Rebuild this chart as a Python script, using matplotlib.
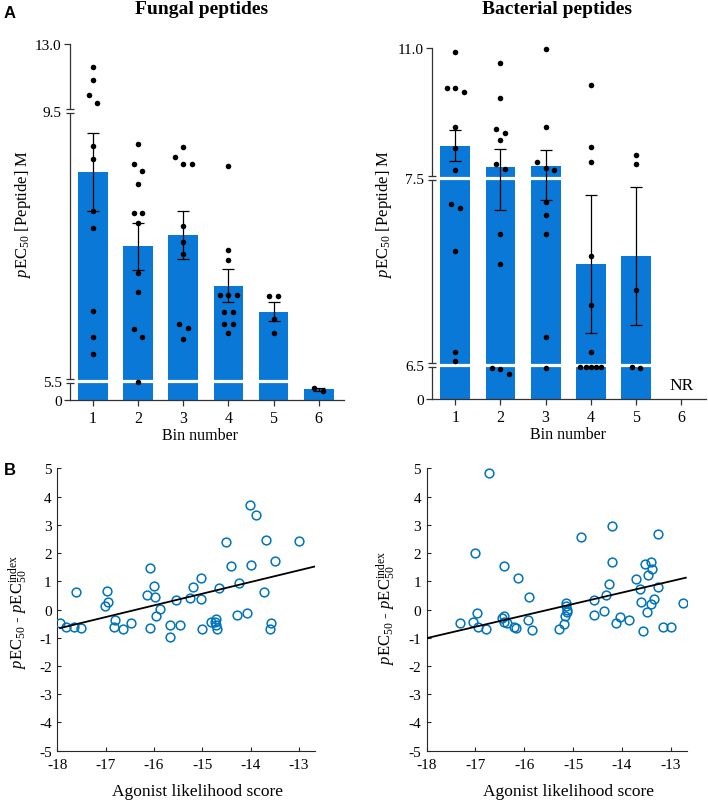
import numpy as np
import matplotlib
matplotlib.use("Agg")
import matplotlib.pyplot as plt
from matplotlib import transforms

plt.rcParams["font.family"] = "Liberation Serif"
plt.rcParams["mathtext.fontset"] = "custom"
plt.rcParams["mathtext.rm"] = "Liberation Serif"
plt.rcParams["mathtext.it"] = "Liberation Serif:italic"
plt.rcParams["mathtext.bf"] = "Liberation Serif:bold"
plt.rcParams["axes.unicode_minus"] = False

# ---- data: panel A ----
bins = [1, 2, 3, 4, 5, 6]
fungal_mean = [8.59, 7.49, 7.66, 6.91, 6.52, 3.0]
fungal_sem = [0.58, 0.35, 0.36, 0.24, 0.14, 0.3]
fungal_points = [
    [11.8, 11.1, 10.3, 9.9, 8.98, 8.79, 8.02, 7.76, 6.53, 6.15, 5.90],
    [9.01, 8.71, 8.60, 8.41, 7.98, 7.98, 7.84, 7.10, 6.81, 6.26, 6.15, 5.1],
    [8.96, 8.82, 8.71, 8.71, 7.79, 7.55, 7.37, 6.34, 6.28, 6.12],
    [8.68, 7.44, 7.29, 6.77, 6.77, 6.77, 6.52, 6.52, 6.34, 6.34, 6.20],
    [6.75, 6.75, 6.42, 6.20],
    [3.3, 2.7],
]

bact_bins = [1, 2, 3, 4, 5]
bact_mean = [8.37, 7.80, 7.82, 7.04, 7.08]
bact_sem = [0.42, 0.47, 0.44, 0.37, 0.37]
bact_points = [
    [10.89, 9.92, 9.92, 9.81, 8.86, 8.30, 7.72, 7.36, 7.34, 7.11, 6.57, 6.52],
    [10.60, 9.66, 8.81, 8.72, 8.53, 7.89, 7.73, 7.20, 7.04, 5.87, 5.74, 4.78],
    [10.96, 8.87, 7.92, 7.76, 7.72, 7.37, 7.30, 7.20, 6.65, 5.93],
    [10.01, 8.34, 7.94, 7.08, 6.82, 6.57, 6.06, 6.06, 6.06, 6.06, 6.06],
    [8.12, 7.87, 6.90, 6.06, 5.87],
]

# ---- data: panel B ----
fung_score = [-17.94, -17.83, -17.66, -17.61, -17.50, -17.02, -16.96, -16.97,
              -16.81, -16.82, -16.64, -16.48, -16.14, -16.08, -15.99, -15.98,
              -15.96, -15.87, -16.08, -15.67, -15.67, -15.54, -15.46, -15.26,
              -15.19, -15.03, -15.03, -15.00, -14.82, -14.74, -14.72, -14.72,
              -14.70, -14.66, -14.52, -14.41, -14.28, -14.25, -14.08, -14.01,
              -13.99, -13.88, -13.72, -13.69, -13.61, -13.57, -13.49, -13.00]
fung_delta = [-0.48, -0.63, -0.63, 0.62, -0.66, 0.12, 0.25, 0.64,
              -0.38, -0.61, -0.69, -0.49, 0.53, 1.48, 0.84, 0.45,
              -0.22, 0.02, -0.66, -0.54, -0.99, 0.34, -0.56, 0.40,
              0.81, 1.12, 0.36, -0.69, -0.44, -0.45, -0.35, -0.54,
              -0.69, 0.77, 2.39, 1.54, -0.21, 0.93, -0.11, 3.70,
              1.59, 3.36, 0.63, 2.45, -0.68, -0.48, 1.72, 2.41]
fung_fit = (0.414, 6.77)          # slope, intercept
fung_fit_x = (-17.94, -12.67)

bact_score = [-17.31, -17.06, -17.01, -16.97, -16.95, -16.78, -16.73, -16.46,
              -16.42, -16.42, -16.41, -16.35, -16.21, -16.17, -16.12, -15.92,
              -15.90, -15.84, -15.29, -15.19, -15.17, -15.15, -15.14, -15.13,
              -15.12, -14.83, -14.58, -14.58, -14.36, -14.33, -14.27, -14.20,
              -14.20, -14.13, -14.04, -13.85, -13.71, -13.63, -13.61, -13.56,
              -13.53, -13.48, -13.46, -13.40, -13.38, -13.40, -13.34, -13.27,
              -13.25, -13.16, -12.99, -12.75]
bact_delta = [-0.48, -0.43, 2.01, -0.12, -0.62, -0.69, 4.82, -0.31,
              -0.24, 1.53, -0.43, -0.49, -0.62, -0.64, 1.12, -0.38,
              0.45, -0.71, -0.68, -0.51, -0.22, 0.23, 0.11, -0.08,
              -0.01, 2.57, 0.32, -0.19, -0.04, 0.53, 0.90, 2.95,
              1.67, -0.49, -0.25, -0.38, 1.07, 0.71, 0.25, -0.75,
              1.62, -0.10, 1.23, 1.69, 1.43, 0.19, 0.37, 0.81,
              2.66, -0.61, -0.61, 0.23]
bact_fit = (0.403, 6.24)
bact_fit_x = (-18.0, -12.69)

BAR = "#0a78d6"
DOT = "#0072BD"
AXC = "#333333"

fig = plt.figure(figsize=(7.08, 8.03), dpi=100)
W, H = 708.0, 803.0


def px_axes(left, top, right, bottom):
    return fig.add_axes([left / W, 1 - bottom / H, (right - left) / W, (bottom - top) / H])


def swarm_x(ax, x0, vals, step=8.5, maxspan=21, tol=8):
    # spread points that sit on the same row, like a column scatter
    vals = np.asarray(vals, float)
    ypix = ax.transData.transform(np.column_stack([np.full(len(vals), x0), vals]))[:, 1]
    px_per_x = ax.transData.transform((1, 0))[0] - ax.transData.transform((0, 0))[0]
    rows = []
    for i in np.argsort(-ypix, kind="stable"):
        if rows and abs(ypix[rows[-1][0]] - ypix[i]) < tol:
            rows[-1].append(i)
        else:
            rows.append([i])
    xs = np.full(len(vals), float(x0))
    for row in rows:
        n = len(row)
        d = step if n < 3 else min(step, maxspan / (n - 1))
        for k, i in enumerate(row):
            xs[i] = x0 + (k - (n - 1) / 2) * d / px_per_x
    return xs


def bar_panel(ax, xb, means, sems, points, seg_vals, seg_pos, ticklabels):
    sv = np.asarray(seg_vals, float)
    sp = np.asarray(seg_pos, float)
    ax.set_yscale("function", functions=(lambda y: np.interp(y, sv, sp),
                                         lambda p: np.interp(p, sp, sv)))
    ax.set_ylim(sv[0], sv[-1])
    ax.set_xlim(0.49, 6.55)

    ax.bar(xb, means, width=0.66, color=BAR, zorder=1)
    ax.errorbar(xb, means, yerr=sems, fmt="none", ecolor="black",
                elinewidth=0.9, capsize=4.5, capthick=0.9, zorder=3)
    for b, pts in zip(xb, points):
        ax.scatter(swarm_x(ax, b, pts), pts, s=16, color="black",
                   linewidths=0, zorder=4, clip_on=False)

    # axis breaks
    trans = transforms.blended_transform_factory(ax.transAxes, ax.transData)
    for b in sv[1:-1]:
        ax.axhline(b, xmin=-0.006, xmax=1, color="white", lw=2.3,
                   zorder=2.6, clip_on=False)
        for off in (-2, 2):
            ax.plot([0], [b], marker="_", ms=6, mew=0.9, color=AXC,
                    transform=transforms.offset_copy(trans, y=off, units="dots"),
                    clip_on=False, zorder=5)

    for s in ("top", "right"):
        ax.spines[s].set_visible(False)
    for s in ("left", "bottom"):
        ax.spines[s].set_color(AXC)
        ax.spines[s].set_linewidth(0.9)
    ax.set_yticks(sv)
    ax.set_yticklabels(ticklabels, fontsize=11)
    ax.set_xticks(bins)
    ax.set_xticklabels([str(b) for b in bins], fontsize=11.5)
    ax.tick_params(colors=AXC, width=0.9, length=4, labelcolor="black")
    ax.tick_params(axis="y", pad=2)
    ax.tick_params(axis="x", pad=3)
    for t in ax.yaxis.get_major_ticks()[1:-1]:
        t.tick1line.set_visible(False)

    ax.set_ylabel(r"$\mathit{p}$EC$_{50}$ [Peptide] M", fontsize=12)
    ax.yaxis.label.set_va("center")
    ax.set_xlabel("Bin number", fontsize=11.5)
    ax.xaxis.label.set_va("center")


ax1 = px_axes(70, 45, 343.5, 401)
bar_panel(ax1, bins, fungal_mean, fungal_sem, fungal_points,
          [0, 5.5, 9.5, 13.0], [0, 19.3, 289.3, 356], ["0", "5.5", "9.5", "13.0"])
ax1.yaxis.set_label_coords(-0.172, 0.525)
ax1.xaxis.set_label_coords(0.475, -0.097)

ax2 = px_axes(432.3, 49, 706, 400)
bar_panel(ax2, bact_bins, bact_mean, bact_sem, bact_points,
          [0, 6.5, 7.5, 11.0], [0, 34.3, 221, 351], ["0", "6.5", "7.5", "11.0"])
ax2.yaxis.set_label_coords(-0.175, 0.53)
ax2.xaxis.set_label_coords(0.496, -0.101)
ax2.annotate("NR", xy=(6, 0), xytext=(0, 4), textcoords="offset points",
             ha="center", va="bottom", fontsize=12.5)


def scatter_panel(ax, xs, ys, fit, fit_x):
    ax.plot(xs, ys, linestyle="none", marker="o", ms=6.3, mfc="none",
            mec=DOT, mew=1.1, zorder=3)
    fx = np.array(fit_x)
    ax.plot(fx, fit[0] * fx + fit[1], color="black", lw=1.3, zorder=4)
    ax.set_xlim(-18, -12.67)
    ax.set_ylim(-5, 5)
    ax.set_xticks(range(-18, -12))
    ax.set_yticks(range(-5, 6))
    for s in ("top", "right"):
        ax.spines[s].set_visible(False)
    for s in ("left", "bottom"):
        ax.spines[s].set_color("#262626")
        ax.spines[s].set_linewidth(0.8)
    ax.tick_params(direction="in", length=3, width=0.8, colors="#262626",
                   labelcolor="black", labelsize=11, pad=4)
    ax.tick_params(axis="x", pad=5)
    ax.set_xlabel("Agonist likelihood score", fontsize=12.5)
    ax.xaxis.label.set_va("center")
    ax.set_ylabel(r"$\mathit{p}$EC$_{50}$ - $\mathit{p}$EC$_{50}^{\rm index}$", fontsize=12)
    ax.yaxis.label.set_va("center")


ax3 = px_axes(57.3, 469.3, 315, 751.7)
scatter_panel(ax3, fung_score, fung_delta, fung_fit, fung_fit_x)
ax3.xaxis.set_label_coords(0.545, -0.142)
ax3.yaxis.set_label_coords(-0.152, 0.496)

ax4 = px_axes(426.7, 469.3, 686.8, 751.7)
scatter_panel(ax4, bact_score, bact_delta, bact_fit, bact_fit_x)
ax4.xaxis.set_label_coords(0.544, -0.142)
ax4.yaxis.set_label_coords(-0.154, 0.509)

fig.text(201.7 / W, 1 - 10 / H, "Fungal peptides", ha="center", va="center",
         fontsize=14, fontweight="bold")
fig.text(556.7 / W, 1 - 10 / H, "Bacterial peptides", ha="center", va="center",
         fontsize=14, fontweight="bold")
fig.text(10 / W, 1 - 14 / H, "A", ha="center", va="center", fontsize=12,
         fontweight="bold", family="Liberation Sans")
fig.text(10 / W, 1 - 471 / H, "B", ha="center", va="center", fontsize=12,
         fontweight="bold", family="Liberation Sans")

fig.savefig("out.png", dpi=100)
